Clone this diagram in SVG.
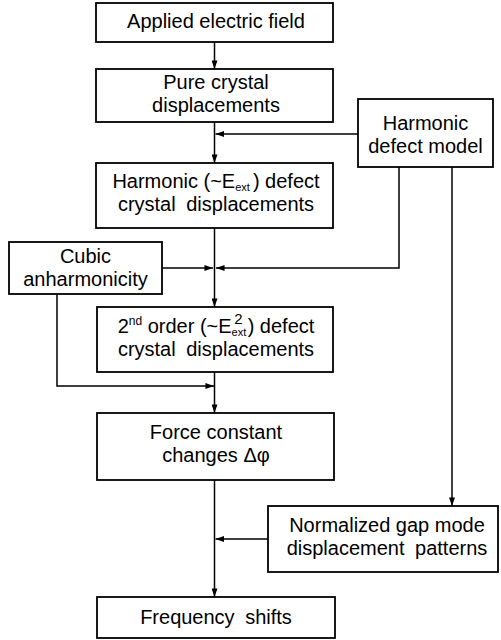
<svg xmlns="http://www.w3.org/2000/svg" width="501" height="640" viewBox="0 0 501 640">
<style>
.box{fill:#fff;stroke:#000;stroke-width:1.8}
.t{font-family:"Liberation Sans",Arial,Helvetica,sans-serif;font-size:20px;fill:#000;text-anchor:middle}
.w{word-spacing:5px}
.c{fill:none;stroke:#000;stroke-width:1.5}
.sm{font-size:11px}
</style>
<defs>
<marker id="ah" viewBox="0 0 10 7" refX="10" refY="3.5" markerWidth="9" markerHeight="6" markerUnits="userSpaceOnUse" orient="auto">
<path d="M0,0 L10,3.5 L0,7 z" fill="#000"/>
</marker>
</defs>
<rect width="501" height="640" fill="#fff"/>
<g id="connectors">
<line class="c" x1="214.5" y1="42" x2="214.5" y2="69" marker-end="url(#ah)"/>
<line class="c" x1="214.5" y1="122" x2="214.5" y2="163" marker-end="url(#ah)"/>
<line class="c" x1="358" y1="134" x2="215.5" y2="134" marker-end="url(#ah)"/>
<line class="c" x1="214.5" y1="228" x2="214.5" y2="307" marker-end="url(#ah)"/>
<line class="c" x1="162" y1="268" x2="213" y2="268" marker-end="url(#ah)"/>
<polyline class="c" points="399,167 399,268 216,268" marker-end="url(#ah)"/>
<line class="c" x1="214.5" y1="372" x2="214.5" y2="413" marker-end="url(#ah)"/>
<polyline class="c" points="57,294 57,386 214,386" marker-end="url(#ah)"/>
<line class="c" x1="452" y1="167" x2="452" y2="506" marker-end="url(#ah)"/>
<line class="c" x1="214.5" y1="480" x2="214.5" y2="597" marker-end="url(#ah)"/>
<line class="c" x1="268" y1="539" x2="215.5" y2="539" marker-end="url(#ah)"/>
</g>
<g id="applied-field">
<rect class="box" x="96" y="3" width="237" height="39"/>
<text class="t" x="216" y="28">Applied electric field</text>
</g>
<g id="pure-crystal">
<rect class="box" x="96" y="69" width="237" height="53"/>
<text class="t" x="216" y="89">Pure crystal</text>
<text class="t" x="216" y="112">displacements</text>
</g>
<g id="harmonic-model">
<rect class="box" x="358" y="99" width="135" height="68"/>
<text class="t" x="425.5" y="130">Harmonic</text>
<text class="t" x="425.5" y="153">defect model</text>
</g>
<g id="harmonic-displacements">
<rect class="box" x="96" y="163" width="237" height="65"/>
<text class="t" x="216" y="188">Harmonic (~E<tspan class="sm" dy="3">ext</tspan><tspan dy="-3" dx="3">) defect</tspan></text>
<text class="t w" x="216" y="211">crystal displacements</text>
</g>
<g id="cubic">
<rect class="box" x="9" y="242" width="153" height="52"/>
<text class="t" x="85.5" y="263">Cubic</text>
<text class="t" x="85.5" y="286">anharmonicity</text>
</g>
<g id="second-order">
<rect class="box" x="97" y="307" width="236" height="65"/>
<text class="t" x="216" y="333">2<tspan font-size="12" dy="-8">nd</tspan><tspan dy="8"> order (~E</tspan><tspan class="sm" dy="3">ext</tspan><tspan font-size="15" dy="-12" dx="-12">2</tspan><tspan dy="9" dx="5">) defect</tspan></text>
<text class="t w" x="216" y="356">crystal displacements</text>
</g>
<g id="force-constant">
<rect class="box" x="97" y="413" width="237" height="67"/>
<text class="t" x="216" y="439">Force constant</text>
<text class="t" x="216" y="462">changes Δφ</text>
</g>
<g id="gap-mode">
<rect class="box" x="268" y="506" width="230" height="66"/>
<text class="t" x="387" y="532">Normalized gap mode</text>
<text class="t w" x="387" y="555">displacement patterns</text>
</g>
<g id="frequency-shifts">
<rect class="box" x="97" y="597" width="238" height="41"/>
<text class="t w" x="216" y="624">Frequency shifts</text>
</g>
</svg>
